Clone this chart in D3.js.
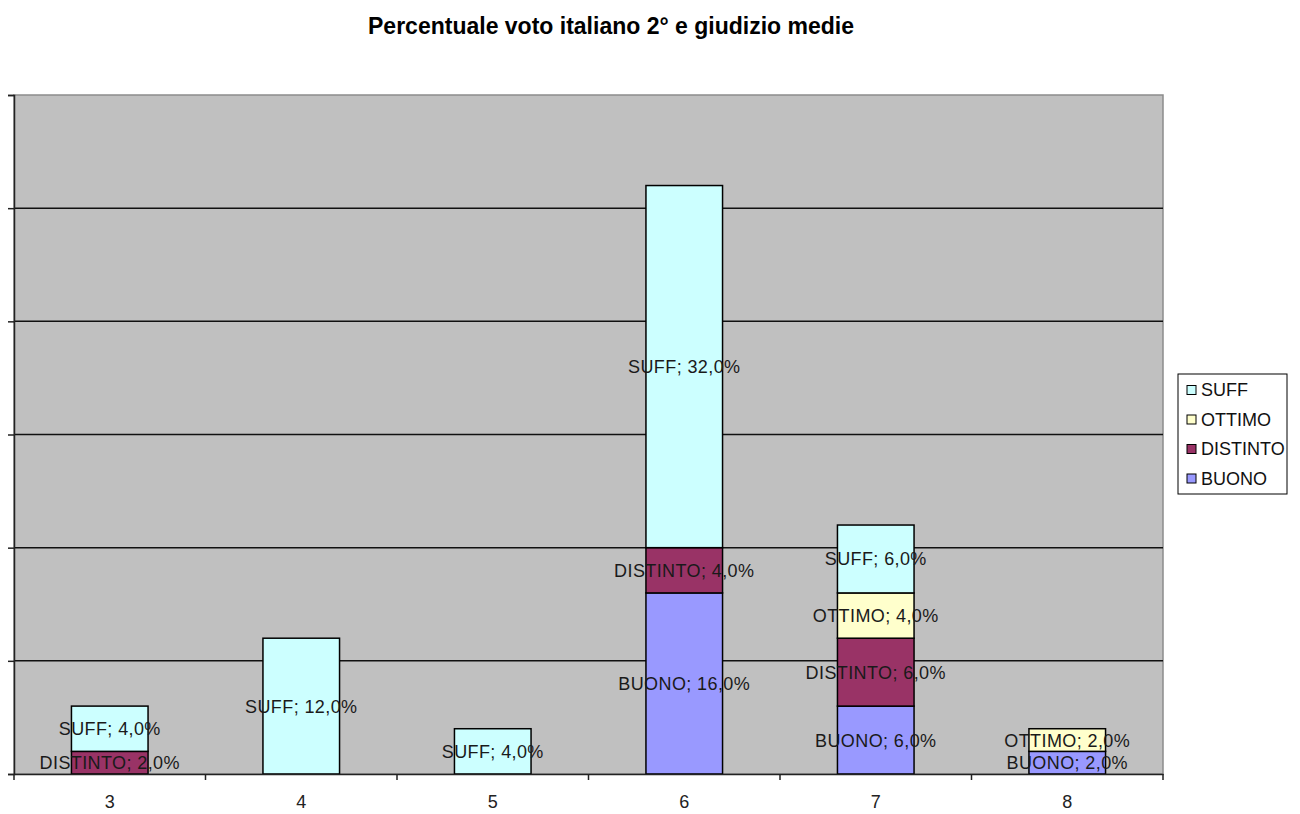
<!DOCTYPE html>
<html><head><meta charset="utf-8">
<script src="https://cdn.jsdelivr.net/npm/d3@7"></script>
<style>body{margin:0;background:#fff;}svg{display:block;font-family:"Liberation Sans",Arial,sans-serif;}</style>
</head><body>
<svg id="c" width="1300" height="814"></svg>
<script>
const categories = ["3","4","5","6","7","8"];
const seriesNames = ["BUONO","DISTINTO","OTTIMO","SUFF"];
const BUONO    = [0, 0, 0, 16, 6, 2];
const DISTINTO = [2, 0, 0, 4, 6, 0];
const OTTIMO   = [0, 0, 0, 0, 4, 2];
const SUFF     = [4, 12, 4, 32, 6, 0];
const yTicks = [0,10,20,30,40,50,60];
const colors = {BUONO:"#9999FF", DISTINTO:"#993366", OTTIMO:"#FFFFCC", SUFF:"#CCFFFF"};
const legendOrder = ["SUFF","OTTIMO","DISTINTO","BUONO"];

const values = {BUONO, DISTINTO, OTTIMO, SUFF};
const table = categories.map((c,i)=>{const o={cat:c}; seriesNames.forEach(s=>o[s]=values[s][i]); return o;});
const stacked = d3.stack().keys(seriesNames)(table);

const L=14, R=1163, T=95, B=774;
const svg = d3.select("#c");
const x = d3.scaleBand().domain(categories).range([L,R]).padding(0);
const y = d3.scaleLinear().domain([0,60]).range([B,T]);
const bw = x.bandwidth()/2.5;

svg.append("text").attr("x",611).attr("y",34).attr("text-anchor","middle")
  .attr("font-size",23).attr("font-weight","bold").attr("fill","#000")
  .text("Percentuale voto italiano 2° e giudizio medie");

svg.append("rect").attr("x",L).attr("y",T).attr("width",R-L).attr("height",B-T)
  .attr("fill","#C0C0C0").attr("stroke","#8c8c8c").attr("stroke-width",1.5);

// gridlines
svg.append("g").selectAll("line").data(yTicks.slice(1,-1)).join("line")
  .attr("x1",L).attr("x2",R).attr("y1",d=>y(d)).attr("y2",d=>y(d))
  .attr("stroke","#111").attr("stroke-width",1.5);

// y axis
const ya = svg.append("g").attr("transform",`translate(${L},0)`)
  .call(d3.axisLeft(y).tickValues(yTicks).tickSize(6).tickFormat(""));
ya.selectAll("path,line").attr("stroke","#222").attr("stroke-width",1.5);

// bars
const g = svg.append("g");
stacked.forEach(layer=>{
  const key = layer.key;
  g.append("g").selectAll("rect").data(layer.filter(d=>d[1]-d[0]>0)).join("rect")
    .attr("x",d=>x(d.data.cat)+x.bandwidth()/2-bw/2)
    .attr("width",bw)
    .attr("y",d=>y(d[1]))
    .attr("height",d=>y(d[0])-y(d[1]))
    .attr("fill",colors[key]).attr("stroke","#000").attr("stroke-width",1.5);
});
// labels
stacked.forEach(layer=>{
  const key = layer.key;
  g.append("g").selectAll("text").data(layer.filter(d=>d[1]-d[0]>0)).join("text")
    .attr("x",d=>x(d.data.cat)+x.bandwidth()/2)
    .attr("y",d=>(y(d[0])+y(d[1]))/2)
    .attr("dy","0.36em").attr("text-anchor","middle")
    .attr("font-size",18).attr("letter-spacing","0.4px").attr("fill","#1a1a1a")
    .text(d=>key+"; "+(d[1]-d[0]).toFixed(1).replace(".",",")+"%");
});

// x axis
const xa = svg.append("g").attr("transform",`translate(0,${B})`)
  .call(d3.axisBottom(x).tickSize(0).tickPadding(21));
xa.select(".domain").attr("stroke","#222").attr("stroke-width",1.5);
xa.selectAll("text").attr("font-size",18).attr("fill","#222").attr("font-family","Liberation Sans, Arial, sans-serif");
const bounds = categories.map(c=>x(c)).concat([R]);
xa.append("g").selectAll("line").data(bounds).join("line")
  .attr("x1",d=>d).attr("x2",d=>d).attr("y1",0).attr("y2",6)
  .attr("stroke","#222").attr("stroke-width",1.5);

// legend
const lg = svg.append("g");
lg.append("rect").attr("x",1178).attr("y",374).attr("width",109).attr("height",120)
  .attr("fill","#fff").attr("stroke","#000").attr("stroke-width",1);
legendOrder.forEach((k,i)=>{
  const cy = 390 + i*29.5;
  lg.append("rect").attr("x",1187).attr("y",cy-4.5).attr("width",9).attr("height",9)
    .attr("fill",colors[k]).attr("stroke","#000").attr("stroke-width",1);
  lg.append("text").attr("x",1201).attr("y",cy).attr("dy","0.36em")
    .attr("font-size",18).attr("fill","#111").text(k);
});
</script>
</body></html>
